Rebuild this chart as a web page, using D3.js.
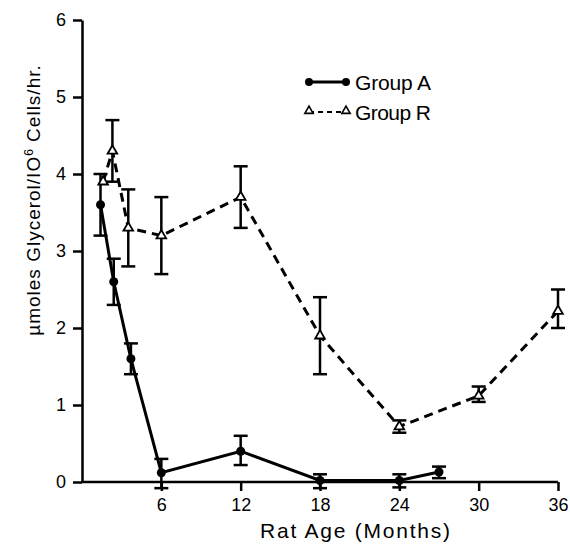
<!DOCTYPE html>
<meta charset="utf-8">
<style>
body { margin: 0; background: #fff; }
text { font-family: "Liberation Sans", Arial, sans-serif; fill: #000; }
.axis path, .axis line { stroke: #000; stroke-width: 2.5; }
.axis text { font-size: 18px; }
</style>
<body>
<script src="https://d3js.org/d3.v7.min.js"></script>
<script>

// data: [month, mean, low, high]
var groupA = [
  [1.4, 3.6, 3.2, 4.0],
  [2.4, 2.6, 2.3, 2.9],
  [3.7, 1.6, 1.4, 1.8],
  [6, 0.12, -0.08, 0.3],
  [12, 0.4, 0.22, 0.6],
  [18, 0.02, -0.08, 0.1],
  [24, 0.02, -0.07, 0.1],
  [27, 0.13, 0.05, 0.2]
];
var groupR = [
  [1.6, 3.9, 3.9, 3.9],
  [2.3, 4.3, 3.9, 4.7],
  [3.5, 3.3, 2.8, 3.8],
  [6, 3.2, 2.7, 3.7],
  [12, 3.7, 3.3, 4.1],
  [18, 1.9, 1.4, 2.4],
  [24, 0.72, 0.64, 0.8],
  [30, 1.12, 1.04, 1.24],
  [36, 2.22, 2.0, 2.5]
];
var xTicks = [6, 12, 18, 24, 30, 36];
var yTicks = [0, 1, 2, 3, 4, 5, 6];
var seriesNames = ["Group A", "Group R"];

var width = 570, height = 545;

var svg = d3.select("body").append("svg")
    .attr("width", width)
    .attr("height", height);

var x = d3.scaleLinear().domain([0, 36]).range([82, 558]);
var y = d3.scaleLinear().domain([0, 6]).range([482, 20]);

// axes
svg.append("g")
    .attr("class", "axis")
    .attr("transform", "translate(0," + y(0) + ")")
    .call(d3.axisBottom(x).tickValues(xTicks).tickSize(9).tickSizeOuter(0).tickPadding(7).tickFormat(d3.format("d")))
    .select(".domain").attr("d", "M" + x(0) + ",0H" + x(36));

svg.append("g")
    .attr("class", "axis")
    .attr("transform", "translate(" + x(0) + ",0)")
    .call(d3.axisLeft(y).tickValues(yTicks).tickSize(9).tickSizeOuter(0).tickPadding(7).tickFormat(d3.format("d")));

svg.selectAll(".axis text").attr("font-family", "Liberation Sans, Arial, sans-serif");

// axis titles
svg.append("text")
    .attr("x", 355)
    .attr("y", 538)
    .attr("text-anchor", "middle")
    .attr("textLength", 190)
    .style("font-size", "21px")
    .text("Rat Age (Months)");

var yt = svg.append("text")
    .attr("transform", "translate(40,200) rotate(-90)")
    .attr("text-anchor", "middle")
    .style("font-size", "19px")
    .style("letter-spacing", "1px");
yt.append("tspan").text("µmoles Glycerol/IO");
yt.append("tspan").attr("dy", -7).style("font-size", "12px").text("6");
yt.append("tspan").attr("dy", 7).text(" Cells/hr.");

var line = d3.line()
    .x(function(d) { return x(d[0]); })
    .y(function(d) { return y(d[1]); });

function errorBars(data) {
  var g = svg.append("g").attr("stroke", "#000").attr("stroke-width", 2.5);
  var bars = data.filter(function(d) { return d[2] != d[3]; });
  g.selectAll(".v").data(bars).enter().append("line")
      .attr("x1", function(d) { return x(d[0]); })
      .attr("x2", function(d) { return x(d[0]); })
      .attr("y1", function(d) { return y(d[2]); })
      .attr("y2", function(d) { return y(d[3]); });
  [2, 3].forEach(function(k) {
    g.selectAll(".c" + k).data(bars).enter().append("line")
        .attr("x1", function(d) { return x(d[0]) - 7; })
        .attr("x2", function(d) { return x(d[0]) + 7; })
        .attr("y1", function(d) { return y(d[k]); })
        .attr("y2", function(d) { return y(d[k]); });
  });
}

errorBars(groupR);
errorBars(groupA);

svg.append("path")
    .datum(groupR)
    .attr("fill", "none")
    .attr("stroke", "#000")
    .attr("stroke-width", 3)
    .attr("stroke-dasharray", "9,6")
    .attr("d", line);

svg.append("path")
    .datum(groupA)
    .attr("fill", "none")
    .attr("stroke", "#000")
    .attr("stroke-width", 3)
    .attr("d", line);

var tri = d3.symbol().type(d3.symbolTriangle).size(40);

svg.selectAll(".tri").data(groupR).enter().append("path")
    .attr("transform", function(d) { return "translate(" + x(d[0]) + "," + y(d[1]) + ")"; })
    .attr("d", tri)
    .attr("fill", "#fff")
    .attr("stroke", "#000")
    .attr("stroke-width", 1.8);

svg.selectAll(".dot").data(groupA).enter().append("circle")
    .attr("cx", function(d) { return x(d[0]); })
    .attr("cy", function(d) { return y(d[1]); })
    .attr("r", 4.5)
    .attr("fill", "#000");

// legend
var legend = svg.append("g");
var rows = legend.selectAll("g").data(seriesNames).enter().append("g")
    .attr("transform", function(d, i) { return "translate(0," + (82 + i * 30) + ")"; });

rows.append("line")
    .attr("x1", 309).attr("x2", 346)
    .attr("stroke", "#000")
    .attr("stroke-width", function(d, i) { return i == 0 ? 3 : 2; })
    .attr("stroke-dasharray", function(d, i) { return i == 0 ? null : "5,4"; });

rows.each(function(d, i) {
  var r = d3.select(this);
  [309, 346].forEach(function(px) {
    if (i == 0) {
      r.append("circle").attr("cx", px).attr("cy", 0).attr("r", 4).attr("fill", "#000");
    } else {
      r.append("path").attr("transform", "translate(" + px + ",-1)")
          .attr("d", d3.symbol().type(d3.symbolTriangle).size(30))
          .attr("fill", "#fff").attr("stroke", "#000").attr("stroke-width", 1.6);
    }
  });
});

rows.append("text")
    .attr("x", 355)
    .attr("y", 8)
    .attr("textLength", 76)
    .style("font-size", "21px")
    .text(function(d) { return d; });

</script>
